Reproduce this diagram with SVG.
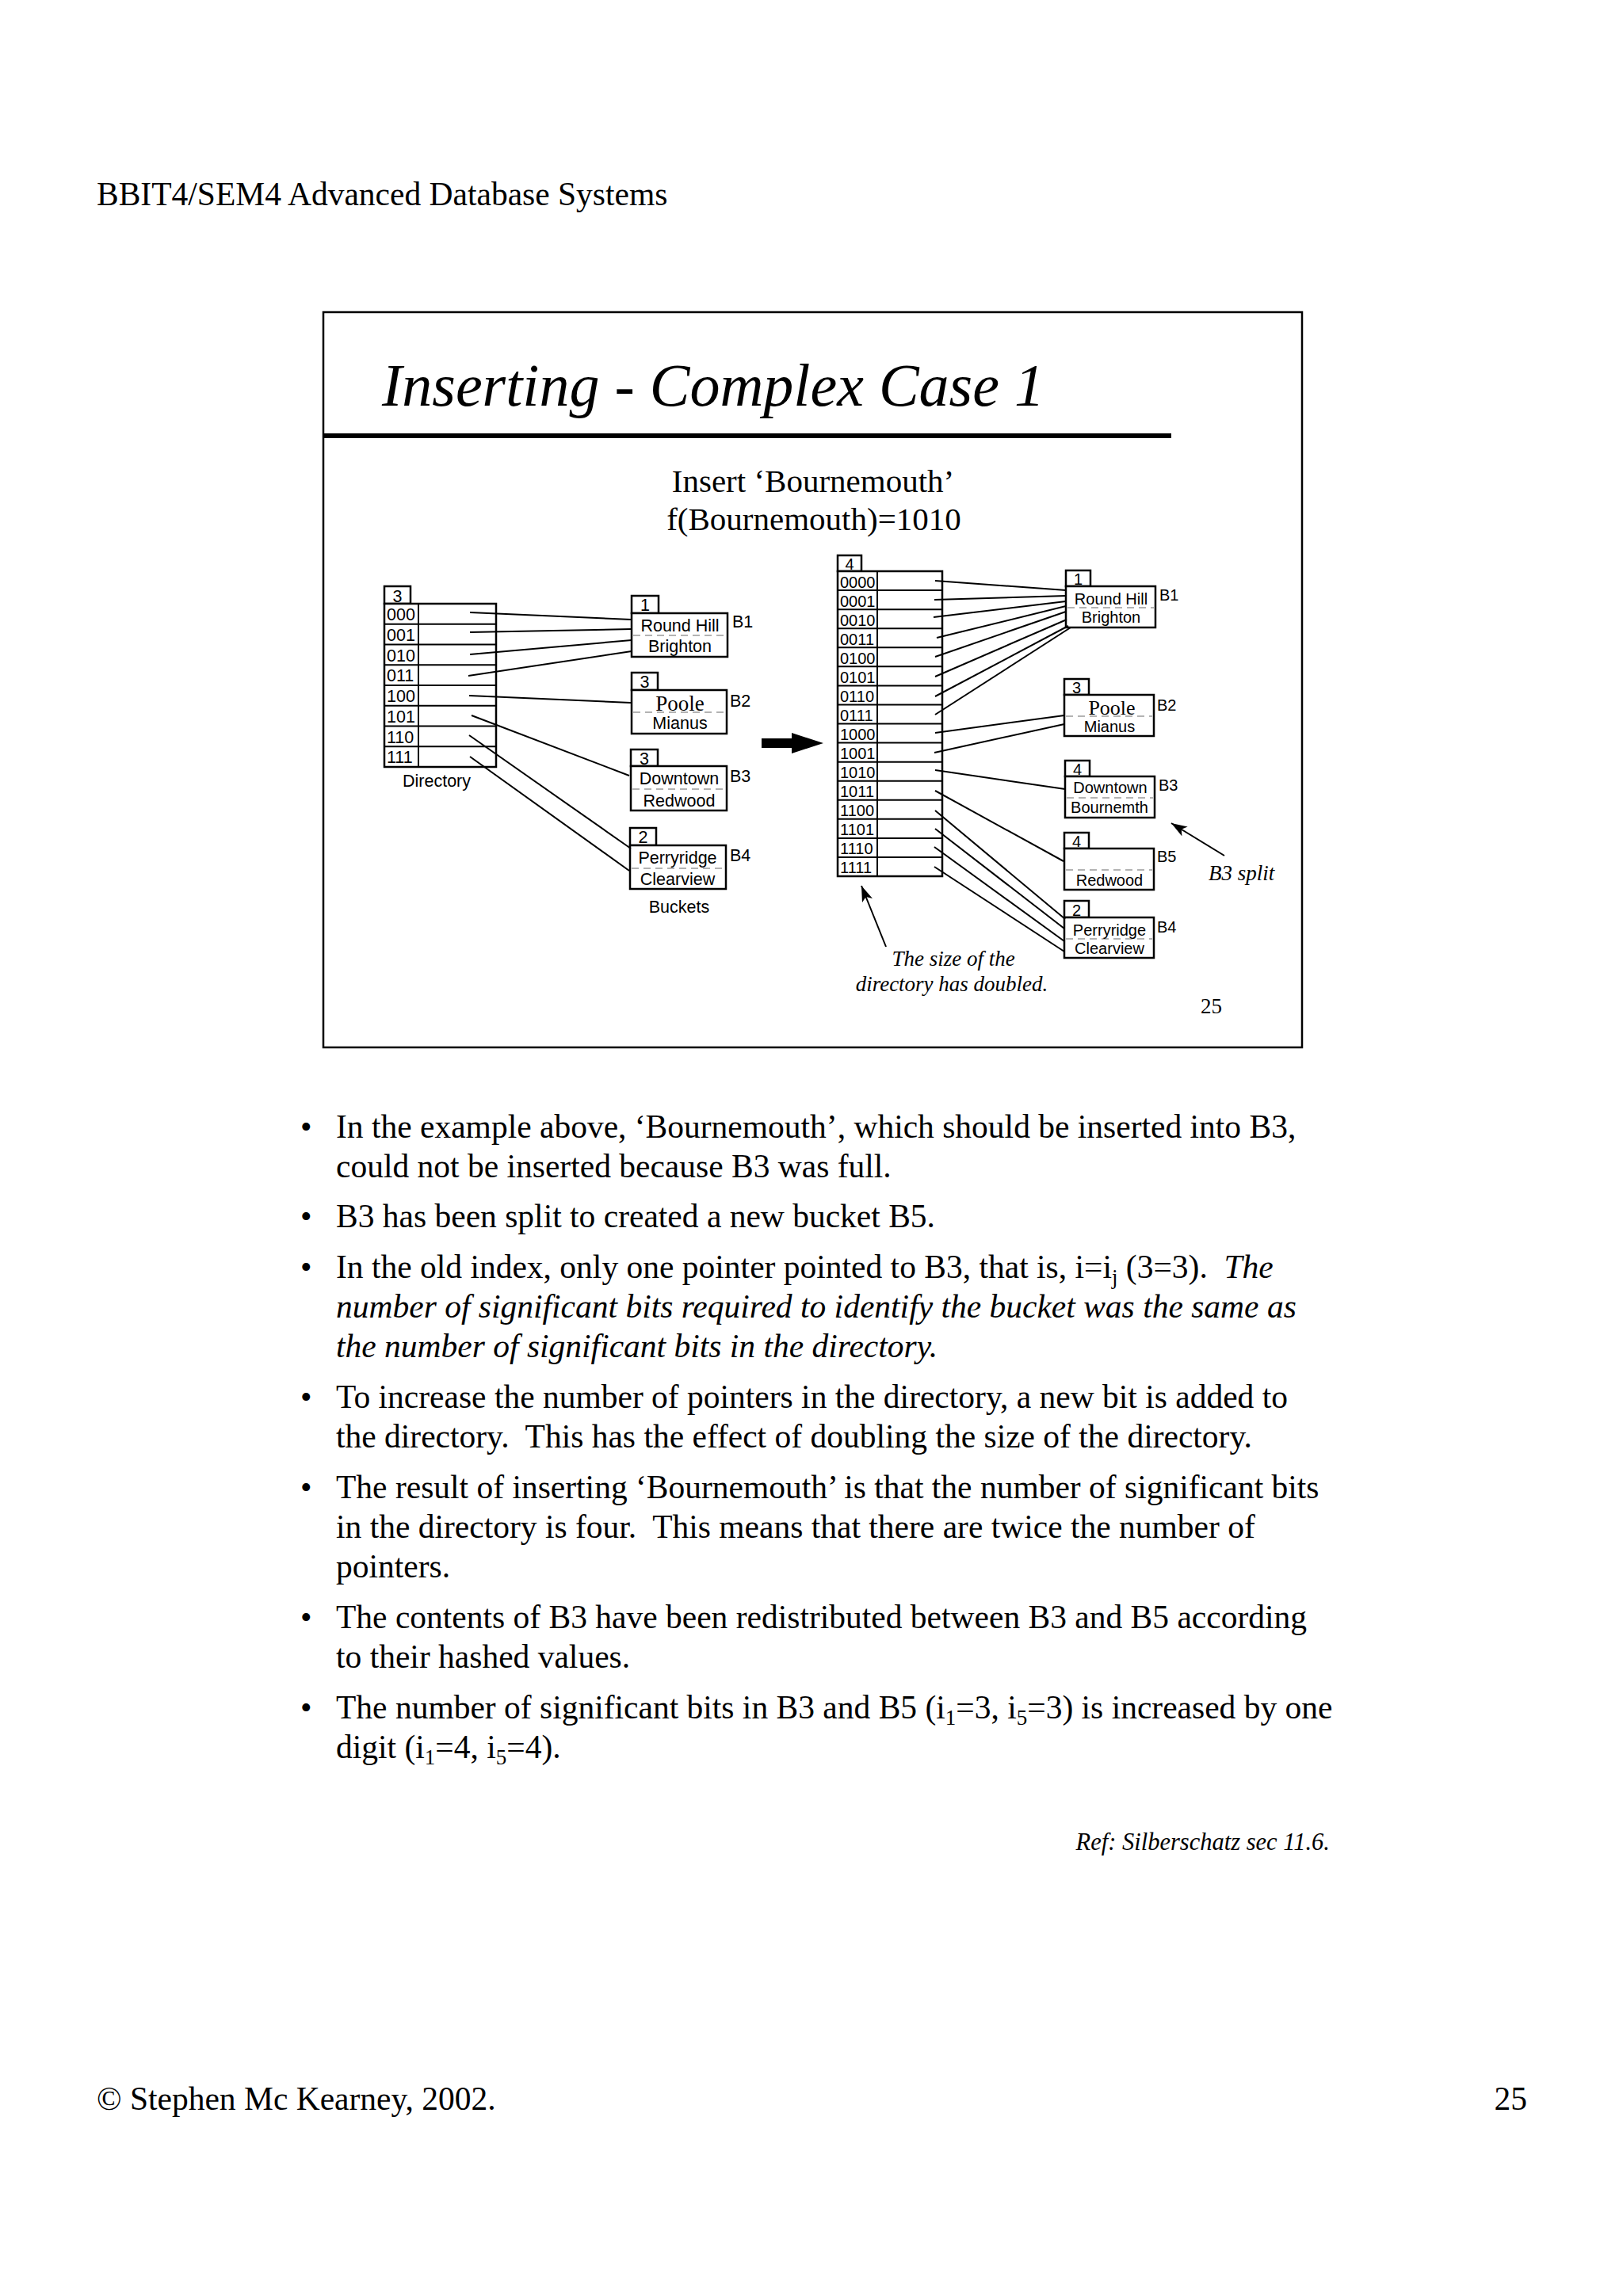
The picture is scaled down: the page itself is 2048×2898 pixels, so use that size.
<svg xmlns="http://www.w3.org/2000/svg" width="2048" height="2898" viewBox="0 0 2048 2898">
<style>
.serif{font-family:"Liberation Serif","Times New Roman",serif;fill:#000}
.sans{font-family:"Liberation Sans",Arial,sans-serif;fill:#000}
.body{font-size:41.5px}
.it{font-style:italic}
.pre{white-space:pre}
.box{fill:#fff;stroke:#000;stroke-width:2.5}
.dash{stroke:#9a9a9a;stroke-width:1.5;stroke-dasharray:9,6;fill:none}
.ptr{stroke:#000;stroke-width:2;fill:none}
.l{font-size:21.5px}
.r{font-size:20px}
.mid{text-anchor:middle}
</style>
<defs>
<marker id="ah" viewBox="0 0 20 14" refX="20" refY="7" markerWidth="20" markerHeight="14" markerUnits="userSpaceOnUse" orient="auto">
<path d="M0,0 L20,7 L0,14 L5,7 Z" fill="#000"/>
</marker>
</defs>
<rect width="2048" height="2898" fill="#fff"/>

<text class="serif" x="122" y="259" font-size="41.5">BBIT4/SEM4 Advanced Database Systems</text>

<g id="slide">
<rect x="408" y="394" width="1235" height="928" fill="none" stroke="#000" stroke-width="2.5"/>
<text class="serif it" x="482" y="512" font-size="76">Inserting - Complex Case 1</text>
<rect x="408" y="547" width="1070" height="6" fill="#000"/>
<text class="serif mid" x="1026" y="621" font-size="41">Insert ‘Bournemouth’</text>
<text class="serif mid" x="1027" y="669" font-size="41">f(Bournemouth)=1010</text>
<text class="serif" x="1515" y="1279" font-size="27">25</text>
</g>

<g id="old-directory">
<rect class="box" x="485" y="740" width="33" height="22"/>
<text class="sans l mid" x="501.5" y="760">3</text>
<rect class="box" x="485" y="762" width="141" height="206"/>
<line x1="528" y1="762" x2="528" y2="968" stroke="#000" stroke-width="2"/>
<g stroke="#000" stroke-width="2">
<line x1="485" y1="787.75" x2="626" y2="787.75"/>
<line x1="485" y1="813.5" x2="626" y2="813.5"/>
<line x1="485" y1="839.25" x2="626" y2="839.25"/>
<line x1="485" y1="865" x2="626" y2="865"/>
<line x1="485" y1="890.75" x2="626" y2="890.75"/>
<line x1="485" y1="916.5" x2="626" y2="916.5"/>
<line x1="485" y1="942.25" x2="626" y2="942.25"/>
</g>
<g class="sans l">
<text x="488" y="783">000</text>
<text x="488" y="809">001</text>
<text x="488" y="835">010</text>
<text x="488" y="860">011</text>
<text x="488" y="886">100</text>
<text x="488" y="912">101</text>
<text x="488" y="938">110</text>
<text x="488" y="963">111</text>
</g>
<text class="sans l mid" x="551" y="993">Directory</text>
</g>

<g id="old-B1">
<rect class="box" x="797" y="752" width="34" height="22"/>
<text class="sans l mid" x="814" y="771">1</text>
<rect class="box" x="797" y="774" width="121" height="55"/>
<line class="dash" x1="799" y1="802" x2="916" y2="802"/>
<text class="sans l mid" x="858" y="797">Round Hill</text>
<text class="sans l mid" x="858" y="823">Brighton</text>
<text class="sans l" x="924" y="792">B1</text>
</g>
<g id="old-B2">
<rect class="box" x="797" y="849" width="33" height="22"/>
<text class="sans l mid" x="813.5" y="868">3</text>
<rect class="box" x="797" y="871" width="120" height="55"/>
<line class="dash" x1="799" y1="899" x2="915" y2="899"/>
<text class="serif mid" x="858" y="897" font-size="27">Poole</text>
<text class="sans l mid" x="858" y="920">Mianus</text>
<text class="sans l" x="921" y="892">B2</text>
</g>
<g id="old-B3">
<rect class="box" x="796" y="946" width="34" height="21"/>
<text class="sans l mid" x="813" y="965">3</text>
<rect class="box" x="796" y="967" width="121" height="56"/>
<line class="dash" x1="798" y1="996" x2="915" y2="996"/>
<text class="sans l mid" x="857" y="990">Downtown</text>
<text class="sans l mid" x="857" y="1018">Redwood</text>
<text class="sans l" x="921" y="987">B3</text>
</g>
<g id="old-B4">
<rect class="box" x="795" y="1045" width="33" height="22"/>
<text class="sans l mid" x="811.5" y="1064">2</text>
<rect class="box" x="795" y="1067" width="121" height="55"/>
<line class="dash" x1="797" y1="1096" x2="914" y2="1096"/>
<text class="sans l mid" x="855" y="1090">Perryridge</text>
<text class="sans l mid" x="855" y="1117">Clearview</text>
<text class="sans l" x="921" y="1087">B4</text>
</g>
<text class="sans l mid" x="857" y="1152">Buckets</text>

<g id="big-arrow">
<polygon points="961,932 999,932 999,925 1039,938 999,951 999,944 961,944" fill="#000"/>
</g>

<g id="new-directory">
<rect class="box" x="1057" y="701" width="30" height="20"/>
<text class="sans r mid" x="1072" y="719">4</text>
<rect class="box" x="1057" y="721" width="132" height="385"/>
<line x1="1107" y1="721" x2="1107" y2="1106" stroke="#000" stroke-width="2"/>
<g stroke="#000" stroke-width="2">
<line x1="1057" y1="745.06" x2="1189" y2="745.06"/>
<line x1="1057" y1="769.13" x2="1189" y2="769.13"/>
<line x1="1057" y1="793.19" x2="1189" y2="793.19"/>
<line x1="1057" y1="817.25" x2="1189" y2="817.25"/>
<line x1="1057" y1="841.31" x2="1189" y2="841.31"/>
<line x1="1057" y1="865.38" x2="1189" y2="865.38"/>
<line x1="1057" y1="889.44" x2="1189" y2="889.44"/>
<line x1="1057" y1="913.5" x2="1189" y2="913.5"/>
<line x1="1057" y1="937.56" x2="1189" y2="937.56"/>
<line x1="1057" y1="961.63" x2="1189" y2="961.63"/>
<line x1="1057" y1="985.69" x2="1189" y2="985.69"/>
<line x1="1057" y1="1009.75" x2="1189" y2="1009.75"/>
<line x1="1057" y1="1033.81" x2="1189" y2="1033.81"/>
<line x1="1057" y1="1057.88" x2="1189" y2="1057.88"/>
<line x1="1057" y1="1081.94" x2="1189" y2="1081.94"/>
</g>
<g class="sans r">
<text x="1060" y="742">0000</text>
<text x="1060" y="766">0001</text>
<text x="1060" y="790">0010</text>
<text x="1060" y="814">0011</text>
<text x="1060" y="838">0100</text>
<text x="1060" y="862">0101</text>
<text x="1060" y="886">0110</text>
<text x="1060" y="910">0111</text>
<text x="1060" y="934">1000</text>
<text x="1060" y="958">1001</text>
<text x="1060" y="982">1010</text>
<text x="1060" y="1006">1011</text>
<text x="1060" y="1030">1100</text>
<text x="1060" y="1054">1101</text>
<text x="1060" y="1078">1110</text>
<text x="1060" y="1102">1111</text>
</g>
</g>

<g id="new-B1">
<rect class="box" x="1345" y="720" width="31" height="20"/>
<text class="sans r mid" x="1360.5" y="738">1</text>
<rect class="box" x="1345" y="740" width="113" height="52"/>
<line class="dash" x1="1347" y1="767" x2="1456" y2="767"/>
<text class="sans r mid" x="1402" y="763">Round Hill</text>
<text class="sans r mid" x="1402" y="786">Brighton</text>
<text class="sans r" x="1463" y="758">B1</text>
</g>
<g id="new-B2">
<rect class="box" x="1343" y="857" width="31" height="20"/>
<text class="sans r mid" x="1358.5" y="875">3</text>
<rect class="box" x="1343" y="877" width="113" height="52"/>
<line class="dash" x1="1345" y1="904" x2="1454" y2="904"/>
<text class="serif mid" x="1403" y="902" font-size="26">Poole</text>
<text class="sans r mid" x="1400" y="924">Mianus</text>
<text class="sans r" x="1460" y="897">B2</text>
</g>
<g id="new-B3">
<rect class="box" x="1344" y="960" width="31" height="20"/>
<text class="sans r mid" x="1359.5" y="978">4</text>
<rect class="box" x="1344" y="980" width="113" height="52"/>
<line class="dash" x1="1346" y1="1007" x2="1455" y2="1007"/>
<text class="sans r mid" x="1401" y="1001">Downtown</text>
<text class="sans r mid" x="1400" y="1026">Bournemth</text>
<text class="sans r" x="1462" y="998">B3</text>
</g>
<g id="new-B5">
<rect class="box" x="1343" y="1051" width="31" height="20"/>
<text class="sans r mid" x="1358.5" y="1069">4</text>
<rect class="box" x="1343" y="1071" width="113" height="52"/>
<line class="dash" x1="1345" y1="1098" x2="1454" y2="1098"/>
<text class="sans r mid" x="1400" y="1118">Redwood</text>
<text class="sans r" x="1460" y="1088">B5</text>
</g>
<g id="new-B4">
<rect class="box" x="1343" y="1137" width="31" height="21"/>
<text class="sans r mid" x="1358.5" y="1156">2</text>
<rect class="box" x="1343" y="1158" width="113" height="51"/>
<line class="dash" x1="1345" y1="1185" x2="1454" y2="1185"/>
<text class="sans r mid" x="1400" y="1181">Perryridge</text>
<text class="sans r mid" x="1400" y="1204">Clearview</text>
<text class="sans r" x="1460" y="1177">B4</text>
</g>

<g id="connectors">
<line class="ptr" x1="593" y1="773" x2="797" y2="782"/>
<line class="ptr" x1="593" y1="798" x2="797" y2="794"/>
<line class="ptr" x1="593" y1="826" x2="797" y2="808"/>
<line class="ptr" x1="591" y1="853" x2="797" y2="822"/>
<line class="ptr" x1="592" y1="878" x2="796" y2="887"/>
<line class="ptr" x1="595" y1="903" x2="794" y2="979"/>
<line class="ptr" x1="592" y1="928" x2="796" y2="1071"/>
<line class="ptr" x1="593" y1="955" x2="794" y2="1099"/>

<line class="ptr" x1="1180" y1="733" x2="1345" y2="745"/>
<line class="ptr" x1="1179" y1="757" x2="1345" y2="752"/>
<line class="ptr" x1="1178" y1="779" x2="1345" y2="759"/>
<line class="ptr" x1="1182" y1="805" x2="1345" y2="765"/>
<line class="ptr" x1="1180" y1="829" x2="1345" y2="772"/>
<line class="ptr" x1="1180" y1="854" x2="1346" y2="782"/>
<line class="ptr" x1="1180" y1="879" x2="1348" y2="790"/>
<line class="ptr" x1="1180" y1="902" x2="1351" y2="792"/>
<line class="ptr" x1="1180" y1="925" x2="1343" y2="903"/>
<line class="ptr" x1="1179" y1="950" x2="1343" y2="914"/>
<line class="ptr" x1="1180" y1="972" x2="1344" y2="996"/>
<line class="ptr" x1="1180" y1="998" x2="1342" y2="1087"/>
<line class="ptr" x1="1180" y1="1023" x2="1344" y2="1160"/>
<line class="ptr" x1="1180" y1="1046" x2="1343" y2="1172"/>
<line class="ptr" x1="1179" y1="1069" x2="1343" y2="1188"/>
<line class="ptr" x1="1179" y1="1094" x2="1343" y2="1201"/>

<line class="ptr" x1="1545" y1="1080" x2="1478" y2="1039" marker-end="url(#ah)"/>
<line class="ptr" x1="1118" y1="1195" x2="1087" y2="1118" marker-end="url(#ah)"/>
</g>

<text class="serif it" x="1525" y="1111" font-size="27">B3 split</text>
<text class="serif it mid" x="1203" y="1219" font-size="27">The size of the</text>
<text class="serif it mid" x="1201" y="1251" font-size="27">directory has doubled.</text>

<g id="bullets" class="serif body">
<text x="379" y="1436">•</text>
<text x="424" y="1436">In the example above, ‘Bournemouth’, which should be inserted into B3,</text>
<text x="424" y="1486">could not be inserted because B3 was full.</text>
<text x="379" y="1549">•</text>
<text x="424" y="1549">B3 has been split to created a new bucket B5.</text>
<text x="379" y="1613">•</text>
<text class="pre" x="424" y="1613">In the old index, only one pointer pointed to B3, that is, i=i<tspan font-size="27" dy="8">j</tspan><tspan dy="-8"> (3=3).  </tspan><tspan font-style="italic">The</tspan></text>
<text x="424" y="1663" font-style="italic">number of significant bits required to identify the bucket was the same as</text>
<text x="424" y="1713" font-style="italic">the number of significant bits in the directory.</text>
<text x="379" y="1777">•</text>
<text x="424" y="1777">To increase the number of pointers in the directory, a new bit is added to</text>
<text class="pre" x="424" y="1827">the directory.  This has the effect of doubling the size of the directory.</text>
<text x="379" y="1891">•</text>
<text x="424" y="1891">The result of inserting ‘Bournemouth’ is that the number of significant bits</text>
<text class="pre" x="424" y="1941">in the directory is four.  This means that there are twice the number of</text>
<text x="424" y="1991">pointers.</text>
<text x="379" y="2055">•</text>
<text x="424" y="2055">The contents of B3 have been redistributed between B3 and B5 according</text>
<text x="424" y="2105">to their hashed values.</text>
<text x="379" y="2169">•</text>
<text x="424" y="2169">The number of significant bits in B3 and B5 (i<tspan font-size="27" dy="8">1</tspan><tspan dy="-8">=3, i</tspan><tspan font-size="27" dy="8">5</tspan><tspan dy="-8">=3) is increased by one</tspan></text>
<text x="424" y="2219">digit (i<tspan font-size="27" dy="8">1</tspan><tspan dy="-8">=4, i</tspan><tspan font-size="27" dy="8">5</tspan><tspan dy="-8">=4).</tspan></text>
</g>

<text class="serif it" x="1678" y="2335" font-size="30.5" text-anchor="end">Ref: Silberschatz sec 11.6.</text>

<text class="serif" x="122" y="2663" font-size="41.5">© Stephen Mc Kearney, 2002.</text>
<text class="serif" x="1927" y="2663" font-size="41.5" text-anchor="end">25</text>
</svg>
